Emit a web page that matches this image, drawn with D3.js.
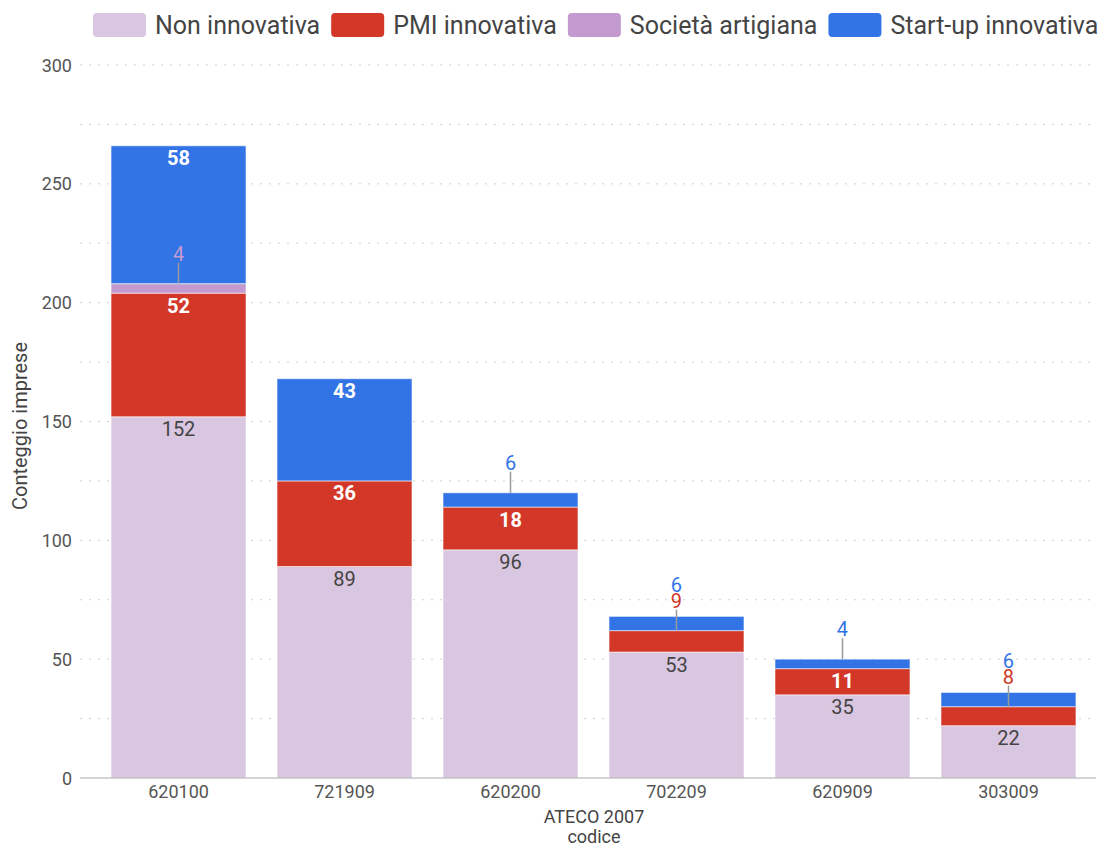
<!DOCTYPE html>
<html>
<head>
<meta charset="utf-8">
<script src="https://cdn.jsdelivr.net/npm/d3@7"></script>
<style>
  html, body { margin: 0; padding: 0; background: #fff; }
  svg { display: block; font-family: Roboto, "Noto Sans", Arial, sans-serif; }
</style>
</head>
<body>
<svg id="chart" width="1098" height="847"></svg>
<script>
// ATECO codes on the x axis
const codes = ["620100", "721909", "620200", "702209", "620909", "303009"];
// Company counts per category, stacked bottom to top
const nonInnovativa = [152, 89, 96, 53, 35, 22];
const pmiInnovativa = [52, 36, 18, 9, 11, 8];
const societaArtigiana = [4, 0, 0, 0, 0, 0];
const startupInnovativa = [58, 43, 6, 6, 4, 6];
const seriesNames = ["Non innovativa", "PMI innovativa", "Società artigiana", "Start-up innovativa"];
const seriesColors = ["#d9c6e0", "#d23727", "#c39bd0", "#3274e6"];
const yTicks = [0, 50, 100, 150, 200, 250, 300];
const gridTicks = [25, 50, 75, 100, 125, 150, 175, 200, 225, 250, 275, 300];

const seriesValues = [nonInnovativa, pmiInnovativa, societaArtigiana, startupInnovativa];
const rows = codes.map((c, i) => {
  const r = { code: c };
  seriesNames.forEach((s, k) => r[s] = seriesValues[k][i]);
  return r;
});

const svg = d3.select("#chart");
const x = d3.scaleBand().domain(codes).range([80, 1107]).paddingInner(0.187).paddingOuter(0.187);
const y = d3.scaleLinear().domain([0, 300]).range([778, 65]);

// dotted gridlines
svg.append("g").selectAll("line").data(gridTicks).join("line")
  .attr("x1", 80).attr("x2", 1096)
  .attr("y1", d => y(d)).attr("y2", d => y(d))
  .attr("stroke", "#cfcfcf").attr("stroke-width", 1)
  .attr("stroke-dasharray", "2,7");

// y tick labels
const yAxis = d3.axisLeft(y).tickValues(yTicks).tickSize(0).tickPadding(0);
const gy = svg.append("g").attr("transform", "translate(72,0)").call(yAxis);
gy.select(".domain").remove();
gy.selectAll("text").attr("font-size", 18).attr("fill", "#555").attr("font-family", "Roboto, sans-serif").attr("dy", "0.34em");

// stacked bars
const stack = d3.stack().keys(seriesNames);
const layers = stack(rows);
const layerG = svg.append("g").selectAll("g").data(layers).join("g")
  .attr("fill", (d, i) => seriesColors[i]);
layerG.selectAll("rect").data(d => d.filter(p => p[1] - p[0] > 0)).join("rect")
  .attr("x", d => x(d.data.code))
  .attr("width", x.bandwidth())
  .attr("y", d => y(d[1]))
  .attr("height", d => y(d[0]) - y(d[1]))
  .attr("stroke", "#ffffff").attr("stroke-opacity", 0.55).attr("stroke-width", 1);

// baseline
svg.append("line").attr("x1", 80).attr("x2", 1096).attr("y1", y(0)).attr("y2", y(0))
  .attr("stroke", "#aaa").attr("stroke-width", 1);

// x tick labels
const xAxis = d3.axisBottom(x).tickSize(0).tickPadding(0);
const gx = svg.append("g").attr("transform", `translate(0,${y(0)})`).call(xAxis);
gx.select(".domain").remove();
gx.selectAll("text").attr("font-size", 18).attr("fill", "#555").attr("font-family", "Roboto, sans-serif").attr("dy", "1.1em");

// value labels
const labelG = svg.append("g").attr("font-size", 20).attr("text-anchor", "middle");
const minInside = 24;
codes.forEach((code, i) => {
  const cx = x(code) + x.bandwidth() / 2;
  const outside = [];
  layers.forEach((layer, k) => {
    const p = layer[i];
    const v = p[1] - p[0];
    if (v <= 0) return;
    const top = y(p[1]);
    const h = y(p[0]) - top;
    if (h >= minInside) {
      labelG.append("text")
        .attr("x", cx).attr("y", top + 19.5)
        .attr("fill", k === 0 ? "#444" : "#fff")
        .attr("font-weight", k === 0 ? "normal" : "bold")
        .text(v);
    } else {
      outside.push({ k, v, top });
    }
  });
  if (outside.length) {
    const base = outside[0].top;
    labelG.append("line")
      .attr("x1", cx).attr("x2", cx)
      .attr("y1", base).attr("y2", base - 21)
      .attr("stroke", "#9a9a9a").attr("stroke-width", 1.5);
    outside.forEach((o, j) => {
      labelG.append("text")
        .attr("x", cx).attr("y", base - 23 - j * 16)
        .attr("fill", seriesColors[o.k])
        .text(o.v);
    });
  }
});

// axis titles
svg.append("text").attr("x", 594).attr("y", 823).attr("text-anchor", "middle")
  .attr("font-size", 18).attr("fill", "#444").text("ATECO 2007");
svg.append("text").attr("x", 594).attr("y", 843).attr("text-anchor", "middle")
  .attr("font-size", 18).attr("fill", "#444").text("codice");
svg.append("text").attr("transform", "translate(27,426) rotate(-90)").attr("text-anchor", "middle")
  .attr("font-size", 20).attr("fill", "#444").text("Conteggio imprese");

// legend along the top
const legend = svg.append("g");
const items = legend.selectAll("g").data(seriesNames).join("g");
items.append("rect").attr("width", 53).attr("height", 24).attr("rx", 4).attr("y", 13)
  .attr("fill", (d, i) => seriesColors[i]);
items.append("text").attr("x", 62).attr("y", 34).attr("font-size", 25).attr("fill", "#444").text(d => d);
let xpos = 93;
items.each(function () {
  const w = this.querySelector("text").getComputedTextLength();
  d3.select(this).attr("transform", `translate(${xpos},0)`);
  xpos += 62 + w + 11;
});
</script>
</body>
</html>
